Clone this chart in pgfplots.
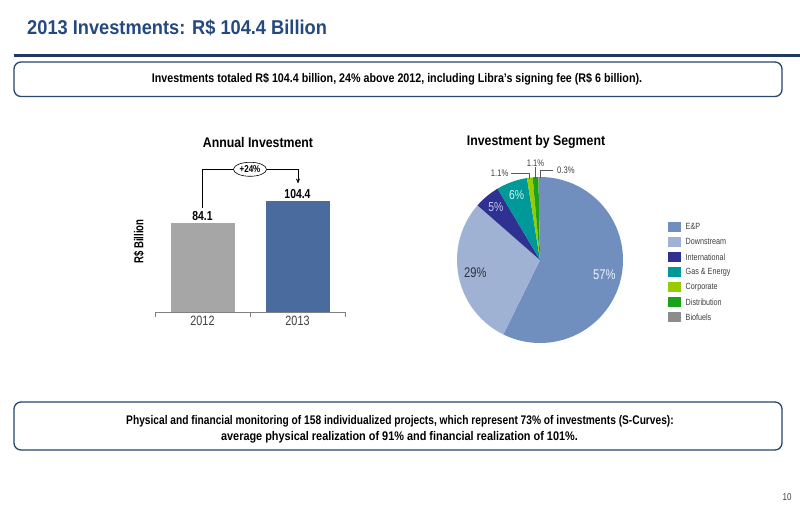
\documentclass[border=0pt]{standalone}
\usepackage{pgfplots}
\pgfplotsset{compat=1.18}
\usepackage{pgfplotstable}
\usetikzlibrary{arrows.meta}
\usepackage{fontspec}
\setmainfont[FakeStretch=0.8]{Liberation Sans}

\definecolor{titleblue}{RGB}{36,73,128}
\definecolor{lineblue}{RGB}{31,56,100}
\definecolor{boxblue}{RGB}{40,70,110}
\definecolor{bar12}{RGB}{166,166,166}
\definecolor{bar13}{RGB}{74,107,157}
\definecolor{cEP}{RGB}{112,143,190}
\definecolor{cDS}{RGB}{160,178,212}
\definecolor{cIN}{RGB}{46,49,146}
\definecolor{cGE}{RGB}{0,153,153}
\definecolor{cCO}{RGB}{153,204,0}
\definecolor{cDI}{RGB}{26,163,26}
\definecolor{cBI}{RGB}{140,140,140}
\definecolor{lEP}{RGB}{238,242,250}
\definecolor{lDS}{RGB}{50,50,60}
\definecolor{lIN}{RGB}{200,200,240}
\definecolor{lGE}{RGB}{215,240,240}
\definecolor{ticktxt}{RGB}{64,64,64}

\pgfplotstableread[col sep=comma]{
segment,value,fillc,labc
E\&P,57,cEP,lEP
Downstream,29,cDS,lDS
International,5,cIN,lIN
Gas \& Energy,6,cGE,lGE
Corporate,1.1,cCO,cCO
Distribution,1.1,cDI,cDI
Biofuels,0.3,cBI,cBI
}\piedata

\begin{document}
\begin{tikzpicture}[x=1pt,y=1pt]
\path[use as bounding box, fill=white] (0,0) rectangle (800,-508);

% title
\node[anchor=base west, inner sep=0pt, xscale=1.14, text=titleblue, font=\bfseries\fontsize{20}{24}\selectfont] at (27,-34.5) {2013 Investments: R\$ 104.4 Billion};
\draw[lineblue, line width=2.5pt] (14,-55.5) -- (800,-55.5);

% box 1
\draw[boxblue, line width=1.3pt, rounded corners=7pt] (14,-62) rectangle (782,-96.5);
\node[anchor=base, inner sep=0pt, xscale=1.07, font=\bfseries\fontsize{12.5}{15}\selectfont] at (397,-83) {Investments totaled R\$ 104.4 billion, 24\% above 2012, including Libra’s signing fee (R\$ 6 billion).};

% box 2
\draw[boxblue, line width=1.3pt, rounded corners=7pt] (14,-402) rectangle (782,-450);
\node[anchor=base, inner sep=0pt, xscale=1.02, font=\bfseries\fontsize{12.5}{15}\selectfont] at (400,-424) {Physical and financial monitoring of 158 individualized projects, which represent 73\% of investments (S-Curves):};
\node[anchor=base, inner sep=0pt, xscale=1.09, font=\bfseries\fontsize{12.5}{15}\selectfont] at (399.5,-440.5) {average physical realization of 91\% and financial realization of 101\%.};

% page number
\node[anchor=base, inner sep=0pt, text=ticktxt, font=\fontsize{10}{12}\selectfont] at (787,-500) {10};

% ---------------- bar chart ----------------
\node[anchor=base, inner sep=0pt, xscale=1.1, font=\bfseries\fontsize{14}{16}\selectfont] at (258,-147) {Annual Investment};
\node[rotate=90, anchor=center, inner sep=0pt, xscale=0.92, font=\bfseries\fontsize{13}{15}\selectfont] at (139,-241.5) {R\$ Billion};

\begin{axis}[
  at={(155pt,-312pt)}, anchor=south west,
  scale only axis, width=190pt, height=127.6pt,
  xmin=-0.5, xmax=1.5, ymin=0, ymax=120,
  axis x line*=bottom, axis y line=none,
  x axis line style={draw=gray},
  xtick={0,1}, xticklabels={2012,2013},
  major tick length=0pt,
  extra x ticks={-0.5,0.5,1.5}, extra x tick labels={},
  extra x tick style={major tick length=5pt, tick align=outside, tick style={draw=gray}},
  tick label style={font=\fontsize{13.5}{15}\selectfont, text=ticktxt},
  xticklabel style={yshift=-1pt},
  ybar, bar width=64pt,
  nodes near coords={\pgfmathprintnumber[fixed,precision=1,fixed zerofill,assume math mode=true]{\pgfplotspointmeta}},
  every node near coord/.append style={font=\bfseries\fontsize{13}{15}\selectfont, text=black, inner sep=2pt},
  clip=false,
]
\addplot[fill=bar12, draw=none, bar shift=0pt] coordinates {(0,84.1)};
\addplot[fill=bar13, draw=none, bar shift=0pt] coordinates {(1,104.4)};
\end{axis}

% growth bracket
\draw[black, line width=0.6pt] (202,-208) -- (202,-169.3) -- (233.5,-169.3);
\draw[black, line width=0.6pt, -{Stealth[length=5pt,width=4pt]}] (266.5,-169.3) -- (298,-169.3) -- (298,-183.5);
\draw[black, line width=0.6pt] (250,-169.3) ellipse [x radius=16.5, y radius=7];
\node[inner sep=0pt, font=\bfseries\fontsize{10}{12}\selectfont] at (250,-169.3) {+24\%};

% ---------------- pie chart ----------------
\node[anchor=base, inner sep=0pt, xscale=1.1, font=\bfseries\fontsize{14}{16}\selectfont] at (536,-146) {Investment by Segment};

\pgfplotstablegetrowsof{\piedata}
\pgfmathtruncatemacro\lastrow{\pgfplotsretval-1}
\gdef\pietotal{0}
\foreach \i in {0,...,\lastrow}{
  \pgfplotstablegetelem{\i}{value}\of\piedata
  \pgfmathsetmacro\tmpsum{\pietotal+\pgfplotsretval}
  \xdef\pietotal{\tmpsum}
}
\pgfmathsetmacro\degper{360/\pietotal}
\gdef\piecum{0}
\foreach \i in {0,...,\lastrow}{
  \pgfplotstablegetelem{\i}{value}\of\piedata \let\vv\pgfplotsretval
  \pgfplotstablegetelem{\i}{fillc}\of\piedata \let\fc\pgfplotsretval
  \pgfplotstablegetelem{\i}{labc}\of\piedata \let\lc\pgfplotsretval
  \pgfmathsetmacro\angA{90-\degper*\piecum}
  \pgfmathsetmacro\angB{90-\degper*(\piecum+\vv)}
  \pgfmathsetmacro\angM{(\angA+\angB)/2}
  \fill[fill=\fc] (540,-260) -- +(\angA:83) arc[start angle=\angA, end angle=\angB, radius=83] -- cycle;
  \ifnum\i<4
    \pgfmathsetmacro\lr{\i<2 ? 66 : 69}
    \ifnum\i<2 \def\lfs{14}\else\def\lfs{13}\fi
    \node[text=\lc, inner sep=0pt, font=\fontsize{\lfs}{15}\selectfont] at ([shift={(\angM:\lr)}]540,-260) {\pgfmathprintnumber[assume math mode=true]{\vv}\%};
  \fi
  \pgfmathsetmacro\tmpc{\piecum+\vv}
  \xdef\piecum{\tmpc}
}

% small outside labels with leader lines
\draw[gray!70!black, line width=0.5pt] (511,-173.3) -- (529.5,-173.3) -- (529.5,-179);
\node[anchor=east, inner sep=0pt, text=ticktxt, font=\fontsize{9.5}{11}\selectfont] at (508.5,-173.3) {1.1\%};
\draw[gray!70!black, line width=0.5pt] (535.5,-167) -- (535.5,-179);
\node[anchor=base, inner sep=0pt, text=ticktxt, font=\fontsize{9.5}{11}\selectfont] at (535.5,-166.5) {1.1\%};
\draw[gray!70!black, line width=0.5pt] (553,-170) -- (540.3,-170) -- (540.3,-178);
\node[anchor=west, inner sep=0pt, text=ticktxt, font=\fontsize{9.5}{11}\selectfont] at (557,-170) {0.3\%};

% legend
\foreach \i in {0,...,\lastrow}{
  \pgfplotstablegetelem{\i}{segment}\of\piedata \let\sn\pgfplotsretval
  \pgfplotstablegetelem{\i}{fillc}\of\piedata \let\fc\pgfplotsretval
  \pgfmathsetmacro\ly{-226.7-15.1*\i}
  \fill[fill=\fc] (668,\ly-5) rectangle (681,\ly+5);
  \node[anchor=west, inner sep=0pt, text=ticktxt, font=\fontsize{9}{11}\selectfont] at (685.5,\ly) {\sn};
}
\end{tikzpicture}
\end{document}
